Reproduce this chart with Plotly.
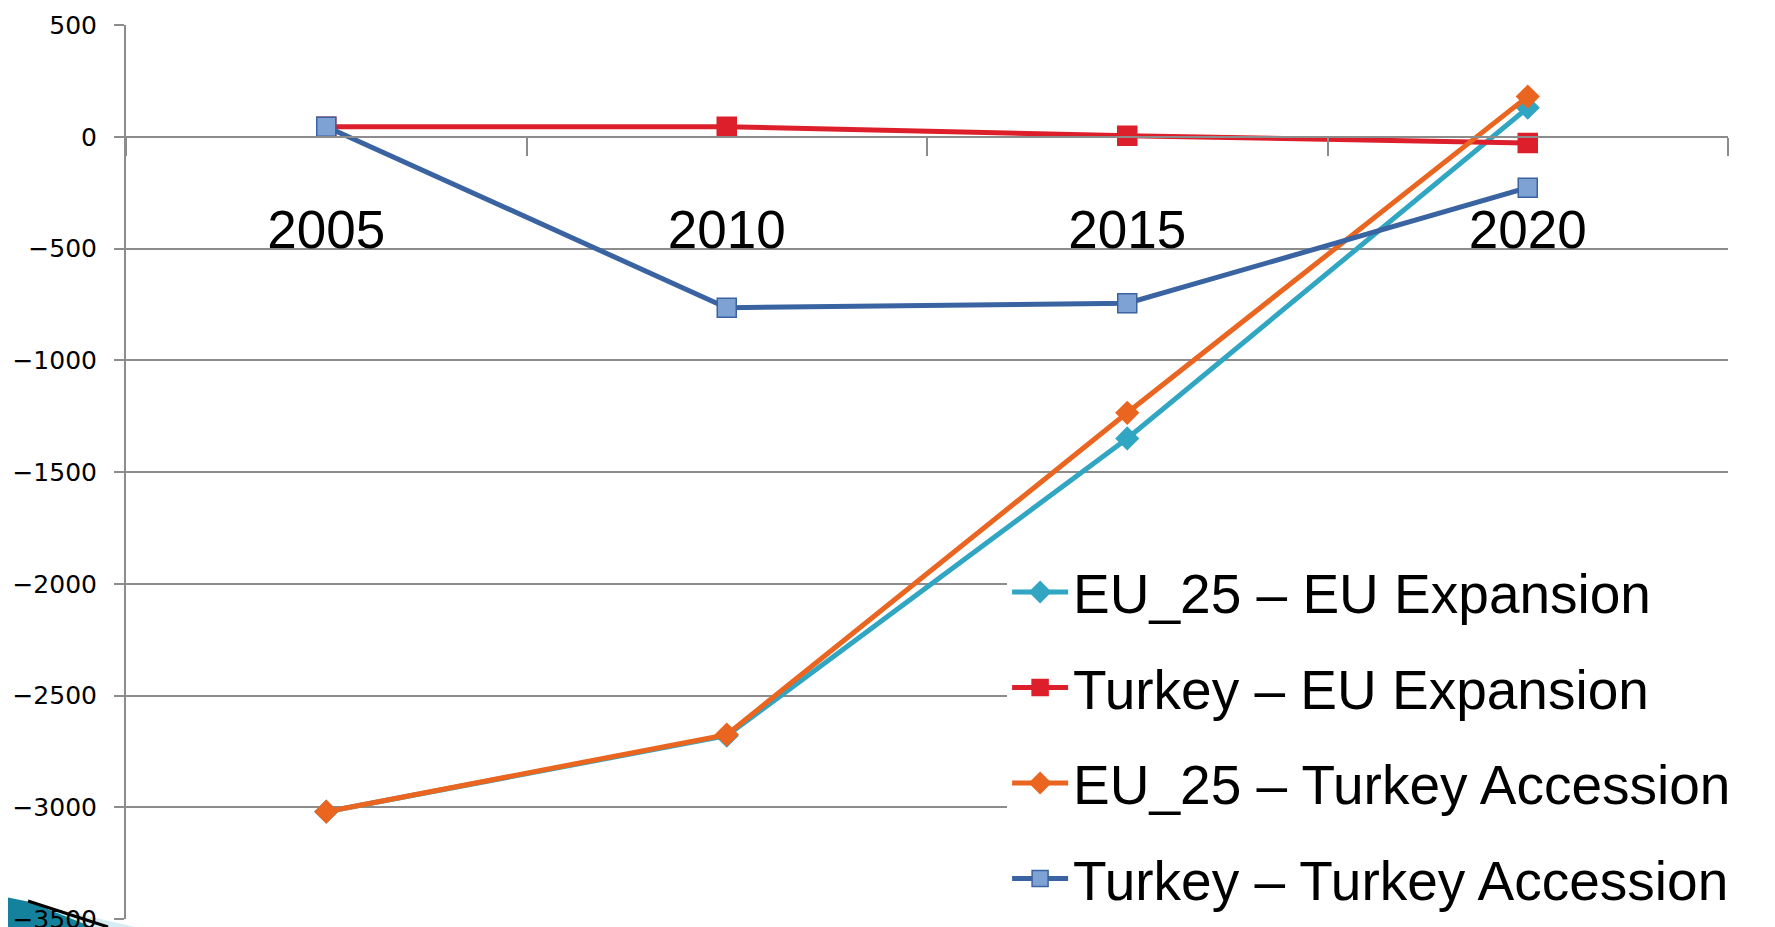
import plotly.graph_objects as go

years = ["2005", "2010", "2015", "2020"]
eu25_eu_expansion = [-3020, -2680, -1350, 130]
turkey_eu_expansion = [45, 45, 5, -28]
eu25_turkey_accession = [-3020, -2675, -1235, 180]
turkey_turkey_accession = [45, -765, -745, -228]

# page has an 8px body margin; compensate
OFF = 8
W, H = 1775 - OFF, 927 - OFF
L, R, T, B = 126 - OFF, 47, 25 - OFF, 8

fig = go.Figure()

series = [
    ("EU_25 – EU Expansion", eu25_eu_expansion, "#31A6C3", "diamond", 17, "#31A6C3", "#31A6C3"),
    ("Turkey – EU Expansion", turkey_eu_expansion, "#DC1F2B", "square", 19, "#DC1F2B", "#DC1F2B"),
    ("EU_25 – Turkey Accession", eu25_turkey_accession, "#EA6520", "diamond", 17, "#EA6520", "#EA6520"),
    ("Turkey – Turkey Accession", turkey_turkey_accession, "#3A63A1", "square", 19, "#7FA2D4", "#3A63A1"),
]

for i, (name, vals, lc, sym, sz, fill, edge) in enumerate(series):
    fig.add_trace(go.Scatter(
        x=years, y=vals, name=name, mode="lines+markers",
        line=dict(color=lc, width=5),
        marker=dict(symbol=sym, size=sz, color=fill, line=dict(color=edge, width=1.5)),
        legendgroup=f"g{i}",
    ))

grid = "#8C8C8C"

fig.update_layout(
    width=W, height=H,
    margin=dict(l=L, r=R, t=T, b=B, autoexpand=False),
    paper_bgcolor="white", plot_bgcolor="white",
    showlegend=True,
    legend=dict(
        x=0.55, y=0.413, xanchor="left", yanchor="top",
        bgcolor="white",
        font=dict(family="Liberation Sans", size=55, color="black"),
        tracegroupgap=21,
        itemwidth=56,
    ),
    xaxis=dict(
        type="category",
        anchor="free", position=0.875,
        range=[-0.5, 3.5],
        automargin=False,
        showline=True, linecolor=grid, linewidth=2,
        ticks="outside", tickson="boundaries", ticklen=18, tickwidth=2, tickcolor=grid,
        showgrid=False,
        tickfont=dict(family="Liberation Sans", size=53, color="black"),
        ticklabelstandoff=47,
    ),
    yaxis=dict(
        range=[-3500, 500], dtick=500, tick0=0,
        automargin=False,
        ticklabeloverflow="allow",
        showline=True, linecolor=grid, linewidth=2,
        ticks="outside", ticklen=10, tickwidth=2, tickcolor=grid,
        showgrid=True, gridcolor=grid, gridwidth=2,
        zeroline=False,
        tickfont=dict(family="DejaVu Sans", size=25, color="black"),
        ticklabelstandoff=12,
    ),
)

def px2paper(px, py):
    # page pixel -> paper coords
    fx, fy = px - OFF, py - OFF
    return (fx - L) / (W - L - R), (H - B - fy) / (H - T - B)

def path(points):
    pts = [px2paper(x, y) for x, y in points]
    return "M " + " L ".join(f"{a:.5f},{b:.5f}" for a, b in pts) + " Z"

fig.add_shape(type="path", xref="paper", yref="paper", layer="below",
              path=path([(0, 896), (40, 905), (135, 927), (0, 927)]),
              fillcolor="#D6EDF3", line=dict(width=0))
fig.add_shape(type="path", xref="paper", yref="paper", layer="below",
              path=path([(0, 896), (30, 902), (92, 927), (0, 927)]),
              fillcolor="#14829C", line=dict(width=0))
x0, y0 = px2paper(28, 901)
x1, y1 = px2paper(108, 927)
fig.add_shape(type="line", xref="paper", yref="paper", x0=x0, y0=y0, x1=x1, y1=y1,
              line=dict(color="black", width=3))

fig.write_html("out.html")
